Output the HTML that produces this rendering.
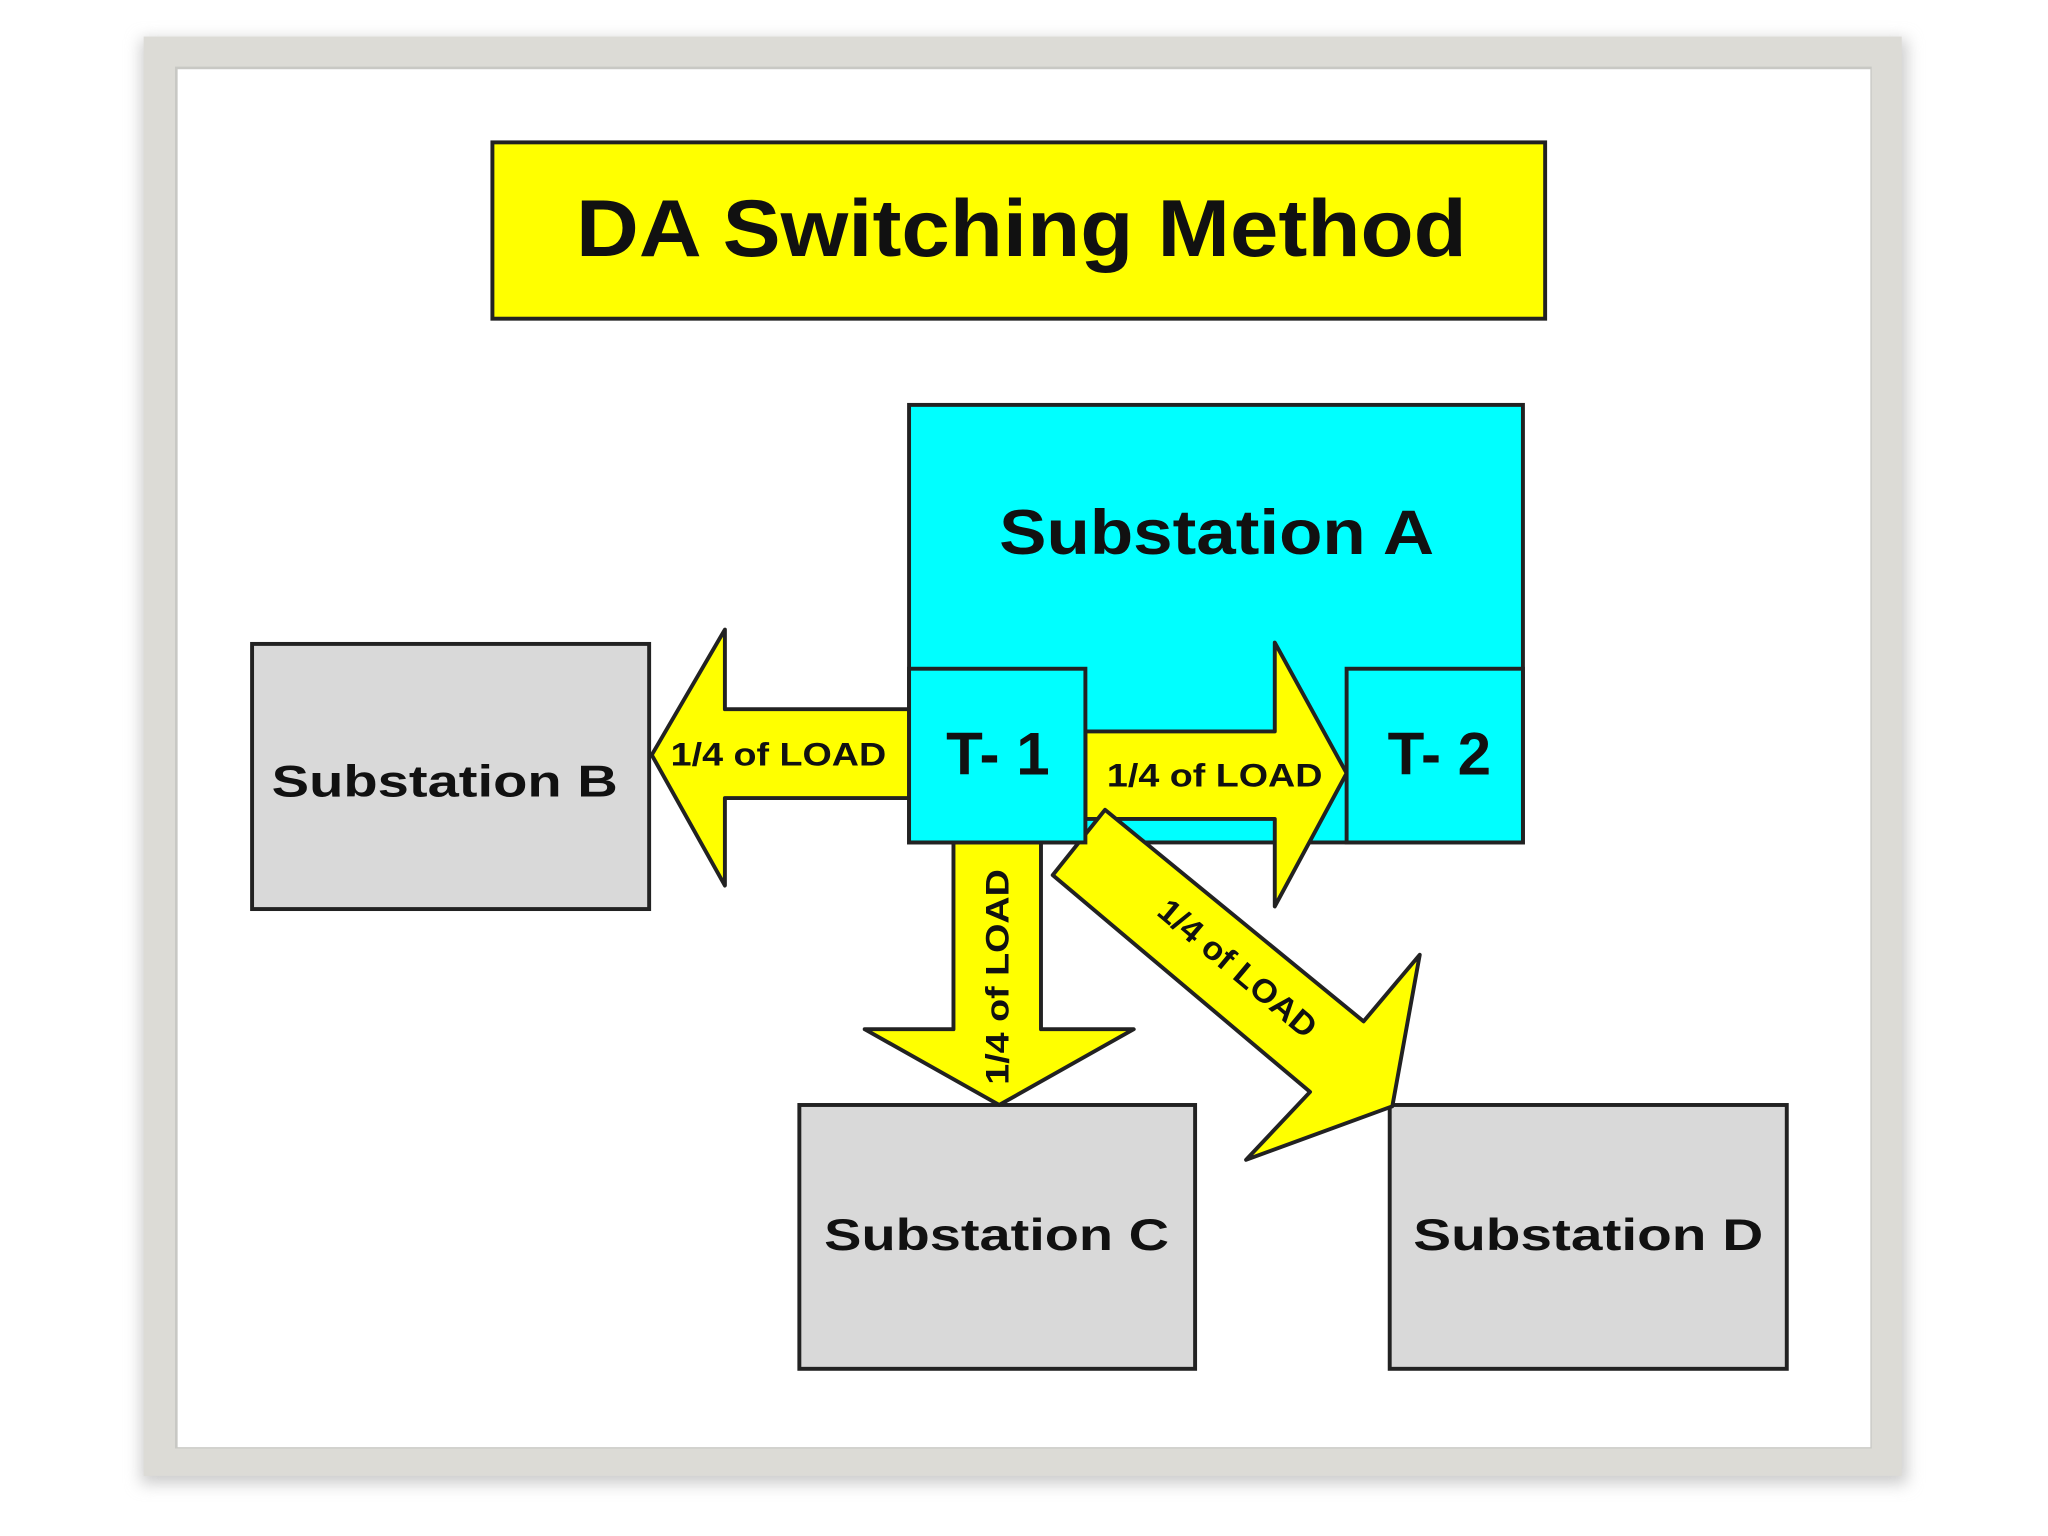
<!DOCTYPE html>
<html><head><meta charset="utf-8"><style>
html,body{margin:0;padding:0;background:#fff;width:2048px;height:1536px;overflow:hidden}
svg{display:block}
text{font-family:"Liberation Sans",Arial,sans-serif;font-weight:bold;fill:#111}
</style></head><body>
<svg width="2048" height="1536" viewBox="0 0 1568 1176" xmlns="http://www.w3.org/2000/svg">
<defs><filter id="sh" x="-5%" y="-5%" width="110%" height="110%"><feGaussianBlur stdDeviation="6"/></filter></defs>
<rect x="108" y="30" width="1352" height="1106" fill="#ccc" filter="url(#sh)"/>
<rect x="110" y="28" width="1346" height="1102" fill="#dcdbd6"/>
<rect x="134" y="51" width="1299" height="1058" fill="#c8c8c4"/>
<rect x="136" y="53" width="1296" height="1055" fill="#fff"/>

<rect x="377" y="109" width="806" height="135" fill="#ffff00" stroke="#222" stroke-width="3"/>
<text x="441" y="196" font-size="62" textLength="682" lengthAdjust="spacingAndGlyphs">DA Switching Method</text>

<rect x="696" y="310" width="470" height="335" fill="#00ffff" stroke="#222" stroke-width="3"/>
<text x="765" y="424" font-size="48" textLength="333" lengthAdjust="spacingAndGlyphs">Substation  A</text>

<rect x="193" y="493" width="304" height="203" fill="#d9d9d9" stroke="#222" stroke-width="3"/>
<text x="208" y="610" font-size="34" textLength="265" lengthAdjust="spacingAndGlyphs">Substation B</text>
<rect x="612" y="846" width="303" height="202" fill="#d9d9d9" stroke="#222" stroke-width="3"/>
<text x="631" y="957" font-size="34" textLength="264" lengthAdjust="spacingAndGlyphs">Substation C</text>
<rect x="1064" y="846" width="304" height="202" fill="#d9d9d9" stroke="#222" stroke-width="3"/>
<text x="1082" y="957" font-size="34" textLength="268" lengthAdjust="spacingAndGlyphs">Substation D</text>

<polygon points="696,543 555,543 555,482 499,578 555,678 555,611 696,611" fill="#ffff00" stroke="#222" stroke-width="3" stroke-linejoin="round"/>
<text x="596" y="586" font-size="25" text-anchor="middle" textLength="165" lengthAdjust="spacingAndGlyphs">1/4 of LOAD</text>
<polygon points="831,560 976,560 976,492 1031,592 976,694 976,627 831,627" fill="#ffff00" stroke="#222" stroke-width="3" stroke-linejoin="round"/>
<text x="930" y="602" font-size="25" text-anchor="middle" textLength="165" lengthAdjust="spacingAndGlyphs">1/4 of LOAD</text>
<polygon points="730,645 730,788 662,788 765,846 868,788 797,788 797,645" fill="#ffff00" stroke="#222" stroke-width="3" stroke-linejoin="round"/>
<text transform="translate(772,748) rotate(-90)" font-size="25" text-anchor="middle" textLength="165" lengthAdjust="spacingAndGlyphs">1/4 of LOAD</text>
<polygon points="846,620 1044,782 1087,731 1066,847 954,888 1003,836 806,670" fill="#ffff00" stroke="#222" stroke-width="3" stroke-linejoin="round"/>
<text transform="translate(942,748) rotate(40)" font-size="25" text-anchor="middle" textLength="150" lengthAdjust="spacingAndGlyphs">1/4 of LOAD</text>

<rect x="696" y="512" width="135" height="133" fill="#00ffff" stroke="#222" stroke-width="3"/>
<text x="764" y="593" font-size="46" text-anchor="middle">T- 1</text>
<rect x="1031" y="512" width="135" height="133" fill="#00ffff" stroke="#222" stroke-width="3"/>
<text x="1102" y="593" font-size="46" text-anchor="middle">T- 2</text>
</svg>
</body></html>
